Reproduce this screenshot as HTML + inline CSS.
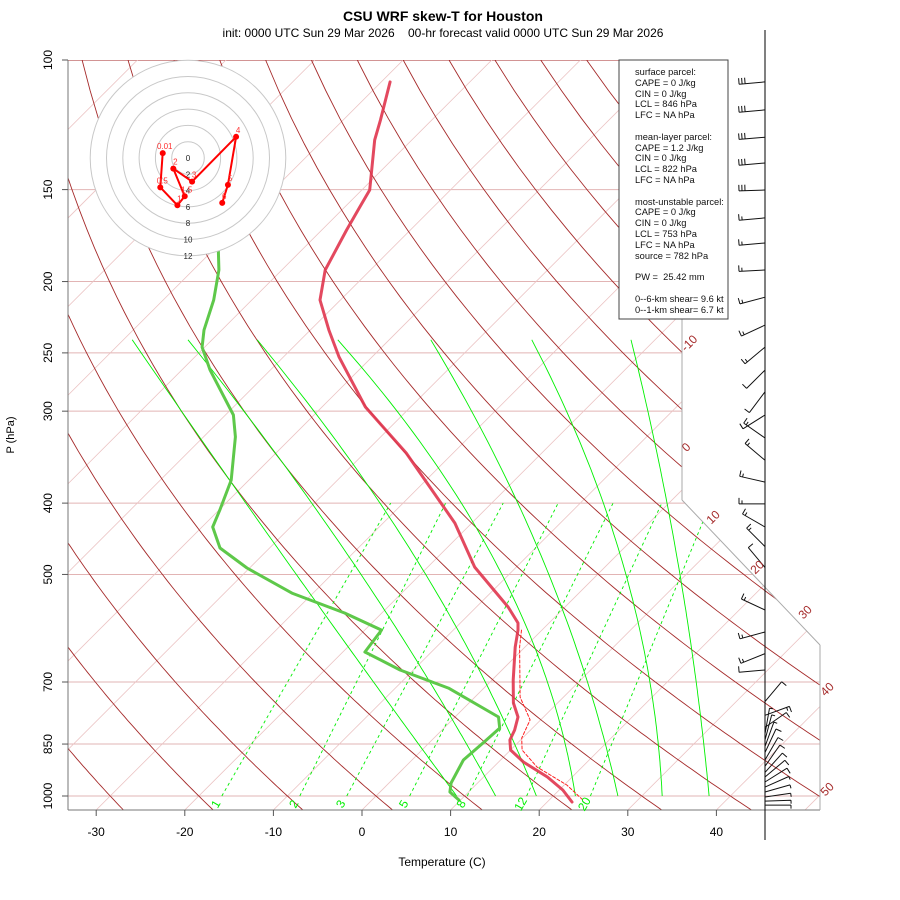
<!DOCTYPE html>
<html><head><meta charset="utf-8"><style>
html,body{margin:0;padding:0;background:#fff;}
svg{display:block;font-family:"Liberation Sans",sans-serif;}
</style></head><body>
<svg id="chart" width="900" height="900" viewBox="0 0 900 900" xmlns="http://www.w3.org/2000/svg">
<defs><clipPath id="plotclip"><polygon points="68,60 682,60 682,500 820,645 820,810 68,810"/></clipPath>
<clipPath id="mixclip"><polygon points="68,502 682,502 682,500 820,645 820,810 68,810"/></clipPath></defs>
<rect width="900" height="900" fill="#fff"/>
<text x="443" y="21" text-anchor="middle" font-size="14" font-weight="bold">CSU WRF skew-T for Houston</text>
<text x="443" y="37" text-anchor="middle" font-size="12" xml:space="preserve">init: 0000 UTC Sun 29 Mar 2026    00-hr forecast valid 0000 UTC Sun 29 Mar 2026</text>
<g id="bg" clip-path="url(#plotclip)"></g>
<g id="mix" clip-path="url(#mixclip)"></g>
<g id="frame"></g>
<g id="series" clip-path="url(#plotclip)"></g>
<g id="hodo"></g>
<g id="barbs"></g>
<g id="labels"></g>
<text x="14" y="435" font-size="11" text-anchor="middle" transform="rotate(-90 14 435)">P (hPa)</text>
<text x="442" y="866" font-size="12" text-anchor="middle">Temperature (C)</text>
<g>
<rect x="619" y="60" width="109" height="259" fill="#fff" stroke="#444" stroke-width="1"/>
<g font-size="9.3" fill="#111">
<text x="635" y="75">surface parcel:</text>
<text x="635" y="86">CAPE = 0 J/kg</text>
<text x="635" y="97">CIN = 0 J/kg</text>
<text x="635" y="107">LCL = 846 hPa</text>
<text x="635" y="118">LFC = NA hPa</text>
<text x="635" y="140">mean-layer parcel:</text>
<text x="635" y="151">CAPE = 1.2 J/kg</text>
<text x="635" y="161">CIN = 0 J/kg</text>
<text x="635" y="172">LCL = 822 hPa</text>
<text x="635" y="183">LFC = NA hPa</text>
<text x="635" y="205">most-unstable parcel:</text>
<text x="635" y="215">CAPE = 0 J/kg</text>
<text x="635" y="226">CIN = 0 J/kg</text>
<text x="635" y="237">LCL = 753 hPa</text>
<text x="635" y="248">LFC = NA hPa</text>
<text x="635" y="259">source = 782 hPa</text>
<text x="635" y="280" xml:space="preserve">PW =  25.42 mm</text>
<text x="635" y="302">0--6-km shear= 9.6 kt</text>
<text x="635" y="313">0--1-km shear= 6.7 kt</text>
</g></g>
<script>
// ---- data ----
const pLevels=[100,150,200,250,300,400,500,700,850,1000];
const pTickLabels=["100","150","200","250","300","400","500","700","850","1000"];
const tTicks=[-30,-20,-10,0,10,20,30,40];
const tTickLabels=["-30","-20","-10","0","10","20","30","40"];
const thetaVals=[-40,-30,-20,-10,0,10,20,30,40,50,60,70,80,90,100,110,120,130,140,150,160,170];
const isoVals=[-120,-110,-100,-90,-80,-70,-60,-50,-40,-30,-20,-10,0,10,20,30,40,50];
const moistT1000=[9.1,13.5,18.1,22.5,27.3,32.3,37.6];
const moistT500=[-34,-26.7,-19.4,-10.8,-5.5,3.2,9.3];
const moistT240=[-79,-72.7,-64.9,-55.8,-45.3,-33.9,-22.7];
const mixLabels=["1","2","3","5","8","12","20"];
const mixT1000=[-17.4,-8.6,-3.3,3.8,10.3,17,24.2];
const mixT400=[-31.4,-25.2,-18.7,-12.5,-6.3,-0.8,4.7];
const tempP=[107.1,120.6,128.4,150.2,158.4,170.2,192.9,211.9,232.8,253.3,296.1,342,425.8,488.6,553.7,582.1,595.1,627.6,695.8,747.4,780.9,813.6,839.4,866,899,942.3,981.3,1019];
const tempT=[-79,-75.8,-74.2,-69.1,-68.3,-67.2,-65.1,-62.3,-57.9,-53.7,-45.1,-35.3,-21.9,-14.7,-6.4,-3.5,-2.7,-1.1,2.4,5,7.1,8.2,8.8,10,12.8,17.2,20.4,22.8];
const dewP=[178.4,192.9,211.9,232.8,245.5,263.8,303.6,325.2,372.2,408.8,431,460.3,490,530,564.1,595.1,637.4,674.3,713.4,780.9,808.6,844.7,893.4,960,987.7,1012.5];
const dewT=[-80,-77.1,-74.3,-72,-70.3,-66.8,-59.1,-56.4,-52,-49.9,-48.8,-45.6,-40.3,-32.4,-24.2,-18.1,-17.5,-11.5,-4,4.9,6.3,6.1,5.8,7,7.9,9.8];
const parcelP=[595.1,627.6,733.9,788.1,834.2,866,913.2,966.2,1012.5];
const parcelT=[-2.3,-0.6,5.1,8.8,9.9,11.3,14.9,20.3,23.8];
const hodoLbl=["0.01","0.5","1","1.5","2","3","4","5","6"];
const hodoU=[-3.1,-3.4,-1.3,-0.4,-1.8,0.5,5.9,4.9,4.2];
const hodoV=[0.6,-3.6,-5.8,-4.7,-1.3,-2.9,2.6,-3.3,-5.5];
const ringVals=[2,4,6,8,10,12];
const barbP=[107.1,116.9,127.3,138,150.2,163.9,177.3,192.9,210,229.2,245.5,263.8,282.4,303.6,326.3,349.8,374.6,401,431,458.3,489.3,558.9,598.7,640.5,674.3,744.4,776.8,806.8,823.3,839.4,856.6,873,893.4,911.3,928.9,942.3,957,972.4,987.7,1003,1016,1029];
const barbDir=[265,265,265,265,268,265,265,267,255,245,230,225,217,238,305,310,283,270,300,315,320,295,255,248,265,40,70,55,10,15,20,25,30,35,42,50,58,66,74,82,88,90];
const barbSpd=[30,30,30,30,30,15,15,15,15,15,15,10,10,10,15,15,15,15,15,15,10,15,15,15,10,10,15,10,5,5,5,10,10,10,10,10,10,5,5,5,5,5];

// ---- axes ----
const NS="http://www.w3.org/2000/svg";
function yP(p){return 60+736*Math.log10(p/100);}
function xT(t,p){return 362+8.86*t+(810-yP(p));}
function mk(tag,attrs,parent){const e=document.createElementNS(NS,tag);for(const k in attrs)e.setAttribute(k,attrs[k]);parent.appendChild(e);return e;}
function pathFrom(pts){return pts.map((q,i)=>(i?"L":"M")+q[0].toFixed(1)+","+q[1].toFixed(1)).join("");}
const bg=document.getElementById('bg'),mix=document.getElementById('mix'),frame=document.getElementById('frame'),series=document.getElementById('series'),hodo=document.getElementById('hodo'),barbs=document.getElementById('barbs'),labels=document.getElementById('labels');

// isobars
pLevels.forEach((p,i)=>{const y=yP(p);
 const l=mk('line',{x1:68,y1:y,x2:830,y2:y,stroke:i===0?'#a52a2a':'#e2b4b4','stroke-width':1},bg);
 
 
});
// isotherms
isoVals.forEach(t=>{const a=[xT(t,1050),yP(1050)],b=[xT(t,100),yP(100)];
 const l=mk('line',{x1:a[0],y1:a[1],x2:b[0],y2:b[1],stroke:'#ebc4c4','stroke-width':0.8},bg);
 
 
});
// dry adiabats
thetaVals.forEach(th=>{const pts=[];for(let p=1050;p>=100;p-=10){const t=(th+273.15)*Math.pow(p/1000,0.286)-273.15;pts.push([xT(t,p),yP(p)]);}
 const e=mk('path',{d:pathFrom(pts),fill:'none',stroke:'#a52a2a','stroke-width':0.9},bg);
 
 
});
// moist adiabats (quadratic in log p through three read temperatures)
moistT1000.forEach((t0,i)=>{const L=[3,Math.log10(500),Math.log10(240)],T=[t0,moistT500[i],moistT240[i]];
 function f(lp){let s=0;for(let j=0;j<3;j++){let w=1;for(let k=0;k<3;k++)if(k!==j)w*=(lp-L[k])/(L[j]-L[k]);s+=w*T[j];}return s;}
 const pts=[];for(let p=1000;p>=240;p-=10){pts.push([xT(f(Math.log10(p)),p),yP(p)]);}
 const e=mk('path',{d:pathFrom(pts),fill:'none',stroke:'#00f000','stroke-width':0.9},bg);
 
 
});
// mixing ratio lines
mixT1000.forEach((t0,i)=>{
 const e=mk('line',{x1:xT(t0,1000),y1:yP(1000),x2:xT(mixT400[i],400),y2:yP(400),stroke:'#00ee00','stroke-width':0.9,'stroke-dasharray':'3,3'},mix);
 
 
 const tx=mk('text',{x:xT(t0,1000)-6,y:yP(1000)+12,'font-size':12,fill:'#00ee00','text-anchor':'middle',transform:'rotate(-60 '+(xT(t0,1000)-6)+' '+(yP(1000)+8)+')'},labels);
 tx.textContent=mixLabels[i];
 
 
});
// frame
[[68,60,68,810],[68,810,820,810],[682,60,682,500],[682,500,820,645],[820,645,820,810]].forEach(s=>{
 const l=mk('line',{x1:s[0],y1:s[1],x2:s[2],y2:s[3],stroke:s[0]===68?'#777':'#aaa','stroke-width':1},frame);
 
 
});
pLevels.forEach((p,i)=>{const y=yP(p);
 const l=mk('line',{x1:62,y1:y,x2:68,y2:y,stroke:'#555'},frame);
 
 
 const t=mk('text',{x:52,y:y,'font-size':12,'text-anchor':'middle',transform:'rotate(-90 52 '+y+')'},frame);
 t.textContent=pTickLabels[i];
 
 
});
tTicks.forEach((tv,i)=>{const x=362+8.86*tv;
 const l=mk('line',{x1:x,y1:810,x2:x,y2:816,stroke:'#555'},frame);
 
 
 const t=mk('text',{x:x,y:836,'font-size':12,'text-anchor':'middle'},frame);
 t.textContent=tTickLabels[i];
 
 
});
// right-side line labels
[["-10",692,346],["0",689,450],["10",716,520],["20",760,570],["30",808,615],["40",830,692],["50",830,792]].forEach(a=>{
 const t=mk('text',{x:a[1],y:a[2],'font-size':12,fill:'#a52a2a','text-anchor':'middle',transform:'rotate(-45 '+a[1]+' '+a[2]+')'},labels);
 t.textContent=a[0];
 
 
});
// series
function line(P,T,attrs,name){const pts=P.map((p,i)=>[xT(T[i],p),yP(p)]);const e=mk('path',Object.assign({d:pathFrom(pts),fill:'none','stroke-linejoin':'round','stroke-linecap':'round'},attrs),series);
 
 }
line(parcelP,parcelT,{stroke:'#ff2020','stroke-width':1,'stroke-dasharray':'3,2'},'parcel-trace');
line(tempP,tempT,{stroke:'#e0354e','stroke-width':3,'stroke-opacity':0.9},'temperature-profile');
line(dewP,dewT,{stroke:'#5ec84a','stroke-width':3},'dewpoint-profile');
// hodograph
const hx=188,hy=158,hs=8.15;
const hbg=mk('circle',{cx:hx,cy:hy,r:ringVals[ringVals.length-1]*hs,fill:'#fff',stroke:'none'},hodo);


ringVals.forEach(v=>{
 const c=mk('circle',{cx:hx,cy:hy,r:v*hs,fill:'none',stroke:'#c8c8c8','stroke-width':1},hodo);
 
 
 const t=mk('text',{x:hx,y:hy+v*hs+3,'font-size':8,'text-anchor':'middle',fill:'#222'},hodo);
 t.textContent=String(v);
 
 
});
const h0=mk('text',{x:hx,y:hy+3,'font-size':8,'text-anchor':'middle',fill:'#222'},hodo);h0.textContent="0";


const hp=hodoU.map((u,i)=>[hx+u*hs,hy-hodoV[i]*hs]);
const hl=mk('path',{d:pathFrom(hp),fill:'none',stroke:'#ff0000','stroke-width':2},hodo);


hp.forEach((q,i)=>{
 const c=mk('circle',{cx:q[0],cy:q[1],r:3,fill:'#ff0000'},hodo);
 
 
 const t=mk('text',{x:q[0]+2,y:q[1]-4,'font-size':8,fill:'#ff3030','text-anchor':'middle'},hodo);
 t.textContent=hodoLbl[i];
 
 
});
// wind barbs
const bx=765;
const ax=mk('line',{x1:bx,y1:30,x2:bx,y2:840,stroke:'#000','stroke-width':1},barbs);


barbP.forEach((p,i)=>{const y=yP(p),d=barbDir[i]*Math.PI/180,L=26;
 const ux=Math.sin(d),uy=-Math.cos(d);const tx=bx+L*ux,ty=y+L*uy;const fx=-uy,fy=ux;
 let dd="M"+bx+","+y.toFixed(1)+"L"+tx.toFixed(1)+","+ty.toFixed(1);
 let s=barbSpd[i],k=0;
 while(s>=10){const px=tx-ux*k*3,py=ty-uy*k*3;dd+="M"+px.toFixed(1)+","+py.toFixed(1)+"l"+(fx*6).toFixed(1)+","+(fy*6).toFixed(1);s-=10;k++;}
 if(s>=5){const px=tx-ux*k*3,py=ty-uy*k*3;dd+="M"+px.toFixed(1)+","+py.toFixed(1)+"l"+(fx*3.5).toFixed(1)+","+(fy*3.5).toFixed(1);}
 const e=mk('path',{d:dd,fill:'none',stroke:'#111','stroke-width':1},barbs);
 
 
});
</script>
</svg>
</body></html>
